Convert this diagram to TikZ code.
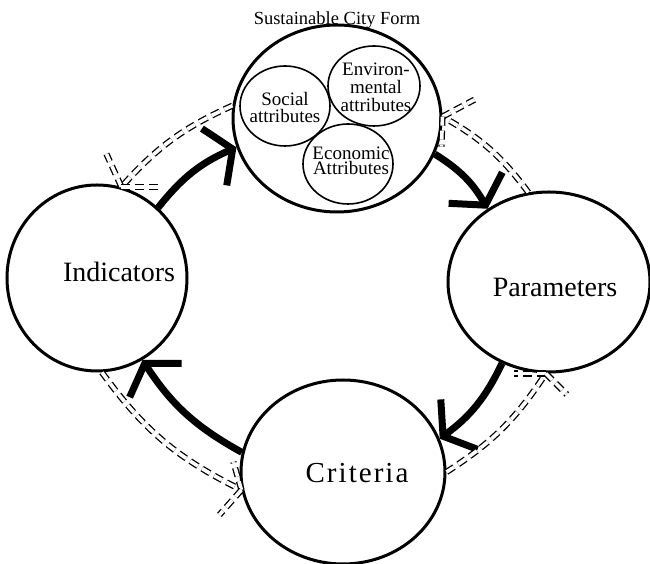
\documentclass[tikz,border=0pt]{standalone}
\usepackage{fontspec}
\setmainfont{Liberation Serif}
\usetikzlibrary{shapes.geometric,arrows.meta}
\begin{document}
\begin{tikzpicture}[x=1pt,y=1pt,
  bigcirc/.style={ellipse,draw,line width=3pt,inner sep=0pt},
  smallcirc/.style={ellipse,draw,line width=1.6pt,inner sep=0pt},
  flow/.style={line width=7pt,-{Straight Barb[length=20pt,width=62pt]}},
  feed/.style={double,double distance=3.6pt,line width=1.3pt,dash pattern=on 9pt off 5pt},
  barb/.style={feed},
  lbl/.style={font=\fontsize{28}{32}\selectfont,anchor=base,inner sep=0pt},
  small/.style={align=center,anchor=base,inner sep=0pt}]
\useasboundingbox (0,0) rectangle (650,564);
% main circles
\node[bigcirc,minimum width=208pt,minimum height=187pt] (top) at (337,445.5) {};
\node[bigcirc,minimum width=180pt,minimum height=186pt] (ind) at (97,286) {};
\node[bigcirc,minimum width=202pt,minimum height=180pt] (par) at (549,282) {};
\node[bigcirc,minimum width=204pt,minimum height=184pt] (cri) at (343,92) {};
% inner circles
\node[smallcirc,minimum width=90pt,minimum height=80pt] (soc) at (285,458) {};
\node[smallcirc,minimum width=92pt,minimum height=80pt] (env) at (374,478) {};
\node[smallcirc,minimum width=90pt,minimum height=80pt] (eco) at (348,400) {};
% texts
\node[anchor=base,inner sep=0pt,font=\fontsize{18.5}{20}\selectfont] (title) at (337,539) {Sustainable City Form};
\node[lbl] (tind) at (119,282) {Indicators};
\node[lbl] (tpar) at (555,267) {Parameters};
\node[lbl,font=\fontsize{29}{32}\selectfont\addfontfeature{LetterSpace=7}] (tcri) at (357,81) {Criteria};
\node[small,font=\fontsize{19}{17}\selectfont] (tsoc) at (285,441) {Social\\attributes};
\node[small,font=\fontsize{19}{18}\selectfont] (tenv) at (376,452) {Environ-\\mental\\attributes};
\node[small,font=\fontsize{19}{15.5}\selectfont] (teco) at (351,389) {Economic\\Attributes};
% thick flow arrows
\draw[flow] (ind.49) to[bend left=14] (top.196);
\draw[flow] (top.340) to[bend left=14] (par.130);
\draw[flow] (par.240) to[bend left=14] (cri.19);
\draw[flow] (cri.169) to[bend left=14] (ind.299);
% dashed feedback arrows
\draw[feed] (top.173) to[bend right=12] (ind.75);
\draw[barb] (ind.75) -- ++(-15,33);
\draw[barb] (ind.75) -- ++(40,0);
\draw[feed] (par.103) to[bend right=12] (top.1);
\draw[barb] (top.1) -- ++(32,17);
\draw[barb] (top.1) -- ++(-1,-30);
\draw[feed] (cri.0) to[bend right=12] (par.268);
\draw[barb] (par.268) -- ++(-32,0);
\draw[barb] (par.268) -- ++(21,-21);
\draw[feed] (ind.273) to[bend right=14] (cri.190);
\draw[barb] (cri.190) -- ++(-8,28);
\draw[barb] (cri.190) -- ++(-22,-25);
\end{tikzpicture}
\end{document}
